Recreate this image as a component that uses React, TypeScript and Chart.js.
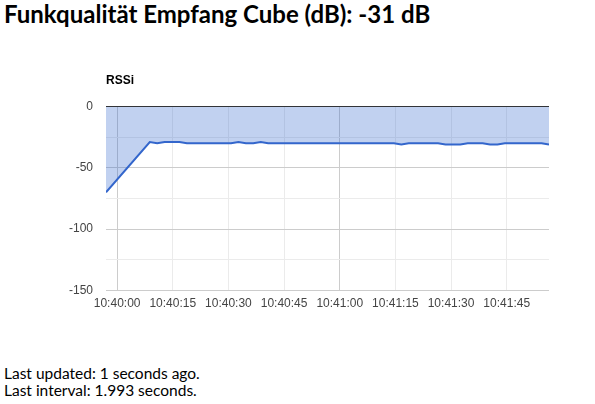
import { useEffect, useRef } from 'react'
import { Chart, registerables } from 'chart.js'

Chart.register(...registerables)

// seconds relative to 10:40:00
const sampleSeconds = [
  -3, 8.8, 10.8, 12.8, 14.8, 16.8, 18.8, 20.8, 22.8, 24.7, 26.7, 28.7, 30.7, 32.7, 34.7, 36.7,
  38.7, 40.7, 42.7, 44.7, 46.7, 48.7, 50.7, 52.6, 54.6, 56.6, 58.6, 60.6, 62.6, 64.6, 66.6,
  68.6, 70.6, 72.6, 74.6, 76.6, 78.6, 80.6, 82.5, 84.5, 86.5, 88.5, 90.5, 92.5, 94.5, 96.5,
  98.5, 100.5, 102.5, 104.5, 106.5, 108.5, 110.4, 112.4, 114.4, 116.4,
]
const rssiValues = [
  -70, -29, -30, -29, -29, -29, -30, -30, -30, -30, -30, -30, -30, -29, -30, -30,
  -29, -30, -30, -30, -30, -30, -30, -30, -30, -30, -30, -30, -30, -30, -30,
  -30, -30, -30, -30, -31, -30, -30, -30, -30, -30, -31, -31, -31, -30, -30,
  -30, -31, -31, -30, -30, -30, -30, -30, -30, -31,
]
const xTickSeconds = [0, 15, 30, 45, 60, 75, 90, 105]
const xTickLabels = ['10:40:00', '10:40:15', '10:40:30', '10:40:45', '10:41:00', '10:41:15', '10:41:30', '10:41:45']

Chart.defaults.font.family = '"Liberation Sans", Arial, sans-serif'

function RssiChart() {
  const canvasRef = useRef<HTMLCanvasElement>(null)
  const chartRef = useRef<Chart | null>(null)

  useEffect(() => {
    if (!canvasRef.current) return
    chartRef.current?.destroy()

    chartRef.current = new Chart(canvasRef.current, {
      type: 'line',
      data: {
        datasets: [
          {
            label: 'RSSi',
            data: sampleSeconds.map((x, i) => ({ x, y: rssiValues[i] })),
            borderColor: '#3366cc',
            backgroundColor: 'rgba(51,102,204,0.3)',
            borderWidth: 2,
            pointRadius: 0,
            tension: 0,
            fill: 'origin',
          },
        ],
      },
      options: {
        animation: false,
        responsive: true,
        maintainAspectRatio: false,
        layout: { padding: { left: 0, right: 46, top: 0, bottom: 9.5 } },
        plugins: {
          legend: { display: false },
          tooltip: { enabled: false },
          title: {
            display: true,
            text: 'RSSi',
            align: 'start',
            fullSize: false,
            color: '#000',
            font: { size: 12, weight: 'bold' },
            padding: { top: 13.6, bottom: 18.5 },
          },
        },
        scales: {
          x: {
            type: 'linear',
            min: -3,
            max: 116.4,
            afterBuildTicks: (s: any) => {
              s.ticks = xTickSeconds.map((value) => ({ value }))
            },
            afterFit: (s: any) => {
              s.height = 20
            },
            border: { display: false },
            grid: {
              drawTicks: false,
              color: (ctx: any) => (ctx.tick && ctx.tick.value % 60 === 0 ? '#cccccc' : '#ebebeb'),
            },
            ticks: {
              autoSkip: false,
              maxRotation: 0,
              padding: 6,
              color: '#444',
              font: { size: 12 },
              callback: (_v: any, i: number) => xTickLabels[i],
            },
          },
          y: {
            min: -150,
            max: 0,
            afterFit: (s: any) => {
              s.width = 106
            },
            border: { display: false },
            grid: {
              drawTicks: false,
              color: (ctx: any) => {
                const v = ctx.tick ? ctx.tick.value : 1
                if (v === 0) return '#333333'
                return v % 50 === 0 ? '#cccccc' : '#ebebeb'
              },
            },
            ticks: {
              stepSize: 25,
              padding: 13,
              color: '#444',
              font: { size: 12 },
              callback: (v: any) => (Number(v) % 50 === 0 ? String(v) : ''),
            },
          },
        },
      },
    })

    return () => {
      chartRef.current?.destroy()
      chartRef.current = null
    }
  }, [])

  return (
    <div style={{ position: 'absolute', left: 0, top: 60, width: 595, height: 260 }}>
      <canvas ref={canvasRef} />
    </div>
  )
}

export default function App() {
  return (
    <div style={{ position: 'absolute', left: 0, top: 0, width: 595, height: 404, background: '#fff', fontFamily: 'Lato, sans-serif', color: '#000' }}>
      <div style={{ position: 'absolute', left: 4, top: 2, fontSize: 24, lineHeight: '24px', fontWeight: 'bold', whiteSpace: 'nowrap' }}>
        Funkqualität Empfang Cube (dB): -31 dB
      </div>
      <RssiChart />
      <div style={{ position: 'absolute', left: 4, top: 365, fontSize: 15.5, lineHeight: '17px', whiteSpace: 'nowrap' }}>
        <div>Last updated: 1 seconds ago.</div>
        <div>Last interval: 1.993 seconds.</div>
      </div>
    </div>
  )
}
